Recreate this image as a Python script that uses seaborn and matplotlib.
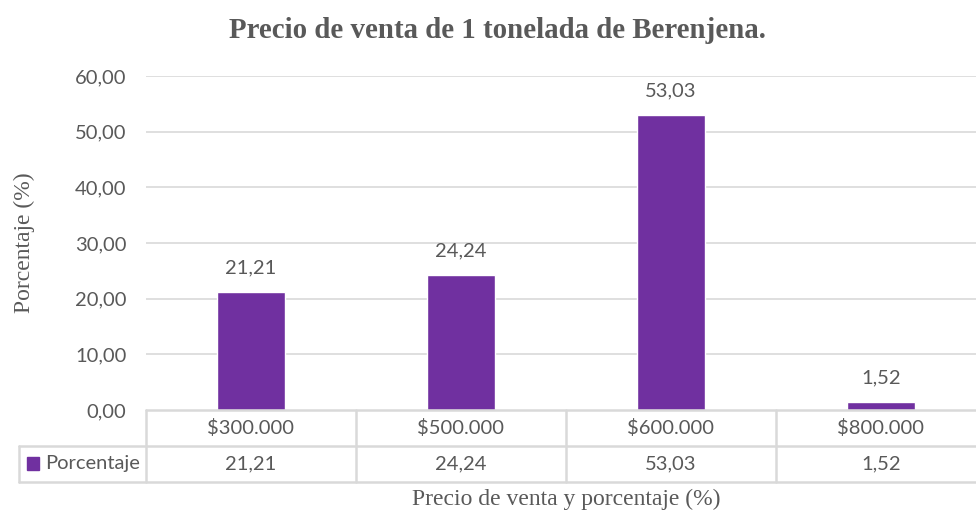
import matplotlib
matplotlib.use("Agg")
import matplotlib.pyplot as plt
import matplotlib.transforms as mtransforms
from matplotlib.patches import Rectangle
import seaborn as sns
import pandas as pd

# Datos
categorias = ["$300.000", "$500.000", "$600.000", "$800.000"]
porcentajes = [21.21, 24.24, 53.03, 1.52]
etiquetas_y = ["0,00", "10,00", "20,00", "30,00", "40,00", "50,00", "60,00"]
serie = "Porcentaje"

sns.set_theme(style="white")
plt.rcParams["font.family"] = ["Lato", "DejaVu Sans"]

gris = "#595959"
linea = "#d9d9d9"
morado = "#7030A0"
fs = 14.5

def fmt(v):
    return f"{v:.2f}".replace(".", ",")

fig = plt.figure(figsize=(9.76, 5.16), dpi=100)
W, H = 976, 516
left, right, top, bottom = 146, 986, 76, 410
ax = fig.add_axes([left / W, 1 - bottom / H, (right - left) / W, (bottom - top) / H])

df = pd.DataFrame({"Precio": categorias, "Porcentaje": porcentajes})
sns.barplot(data=df, x="Precio", y="Porcentaje", color=morado, width=0.32,
            saturation=1, ax=ax)

ax.set_ylim(0, 60)
ax.set_xlim(-0.5, 3.5)
ax.set_yticks(range(0, 61, 10))
ax.set_yticklabels(etiquetas_y, fontsize=fs, color=gris)
ax.set_xticks([])
ax.tick_params(axis="y", length=0, pad=14)
for s in ax.spines.values():
    s.set_visible(False)
for yv in range(10, 61, 10):
    ax.axhline(yv, color=linea, lw=1.2, zorder=0)
ax.set_xlabel("")
ax.set_ylabel("")

# etiquetas de datos
for i, v in enumerate(porcentajes):
    ax.annotate(fmt(v), (i, v), xytext=(0, 11), textcoords="offset points",
                ha="center", va="bottom", fontsize=fs, color=gris)

# tabla de datos
trans = mtransforms.blended_transform_factory(ax.transData, ax.transAxes)
row = 36 / (bottom - top)
x_left_col = -0.5 - (left - 19) / ((right - left) / 4)
kw = dict(color=linea, lw=1.8, clip_on=False, transform=trans)
ax.plot([-0.5, 3.5], [0, 0], **kw)
ax.plot([x_left_col, 3.5], [-row, -row], **kw)
ax.plot([x_left_col, 3.5], [-2 * row, -2 * row], **kw)
ax.plot([-0.5, -0.5], [0, -2 * row], **kw)
ax.plot([x_left_col, x_left_col], [-row, -2 * row], **kw)
for xb in [0.5, 1.5, 2.5]:
    ax.plot([xb, xb], [0, -2 * row], **kw)
for i, (c, v) in enumerate(zip(categorias, porcentajes)):
    ax.text(i, -0.5 * row, c, transform=trans, ha="center", va="center",
            fontsize=fs, color=gris)
    ax.text(i, -1.5 * row, fmt(v), transform=trans, ha="center", va="center",
            fontsize=fs, color=gris)
fig.patches.append(Rectangle((27 / W, 1 - 470 / H), 12 / W, 13 / H,
                             transform=fig.transFigure, color=morado))
fig.text(45 / W, 1 - 463 / H, serie, ha="left", va="center", fontsize=fs, color=gris)

# títulos
fig.text(497 / W, 1 - 30 / H, "Precio de venta de 1 tonelada de Berenjena.",
         ha="center", va="center", fontsize=20.8, fontweight="bold",
         family="Liberation Serif", color=gris)
fig.text(24 / W, 1 - 243 / H, "Porcentaje (%)", rotation=90, ha="center", va="center",
         fontsize=17, family="Liberation Serif", color=gris)
fig.text(566 / W, 1 - 499 / H, "Precio de venta y porcentaje (%)", ha="center",
         va="center", fontsize=17, family="Liberation Serif", color=gris)

fig.savefig("out.png", dpi=100)
